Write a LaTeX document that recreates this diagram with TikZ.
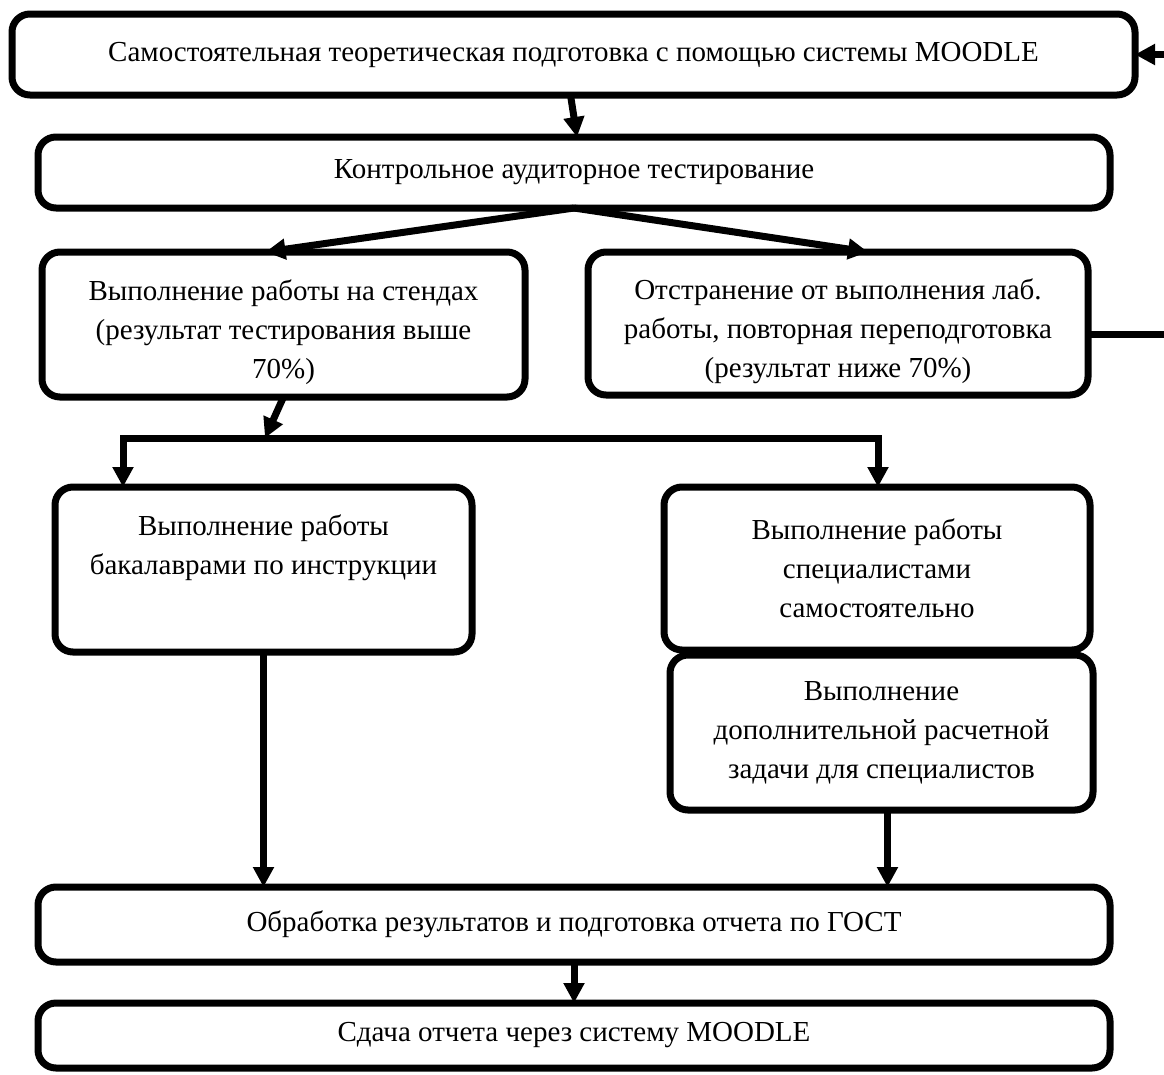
\documentclass[tikz,border=0pt]{standalone}
\usepackage{fontspec}
\setmainfont{Liberation Serif}
\usetikzlibrary{arrows.meta}

\begin{document}
\begin{tikzpicture}[x=1pt,y=-1pt]
	\tikzset{mybox/.style={draw,line width=7pt,rounded corners=18pt,outer sep=0pt,inner sep=0pt,align=center,font=\fontsize{29}{39}\selectfont},
		arr/.style={line width=7pt,-{Triangle[length=20pt,width=20pt]}}
	}
	\useasboundingbox (0,0) rectangle (1164,1074);
    \node [mybox,minimum width=1123pt,minimum height=81pt] (a) at (573.5,54.5) {Самостоятельная теоретическая подготовка с помощью системы MOODLE};
    \node [mybox,minimum width=1072pt,minimum height=71pt] (b) at (574,172.5) {Контрольное аудиторное тестирование};
    \node [mybox,minimum width=483pt,minimum height=145pt] (c) at (283.5,324.5) {\strut\\[-30pt]Выполнение работы на стендах\\(результат тестирования выше\\70\%)};
    \node [mybox,minimum width=500pt,minimum height=143pt] (d) at (838,323.5) {\strut\\[-30pt]Отстранение от выполнения лаб.\\работы, повторная переподготовка\\(результат ниже 70\%)};
    \node [mybox,minimum width=417pt,minimum height=165pt] (e) at (263.5,569.5) {Выполнение работы\\бакалаврами по инструкции\\\strut};
    \node [mybox,minimum width=426pt,minimum height=163pt] (f) at (877,568.5) {Выполнение работы\\специалистами\\самостоятельно};
    \node [mybox,minimum width=423pt,minimum height=155pt] (g) at (881.5,732.5) {Выполнение\\дополнительной расчетной\\задачи для специалистов};
    \node [mybox,minimum width=1072pt,minimum height=75pt] (h) at (574,924.5) {Обработка результатов и подготовка отчета по ГОСТ};
    \node [mybox,minimum width=1072pt,minimum height=65pt] (i) at (574,1035.5) {Сдача отчета через систему MOODLE};

    \coordinate (m) at (265,438);
    \coordinate (l) at (123,438);
    \coordinate (r) at (878,438);

    \draw [arr] ([xshift=-3pt]a.south) -- ([xshift=3pt]b.north);
    \draw [arr] (b.south) -- ([xshift=-18pt]c.north);
    \draw [arr] (b.south) -- ([xshift=30pt]d.north);
    \draw [arr] ([yshift=-11pt]d.east) -- ++(120,0) |- (a.east);
    \draw [arr] (c.south) -- (m);
    \draw [arr] (m) -- (l) -- (l |- e.north);
    \draw [arr] (m) -- (r) -- (r |- f.north);
    \draw [arr] (e.south) -- (e.south |- h.north);
    \draw [arr] ([xshift=6pt]g.south) -- ([xshift=6pt]g.south |- h.north);
    \draw [arr] (h.south) -- (h.south |- i.north);
\end{tikzpicture}
\end{document}
